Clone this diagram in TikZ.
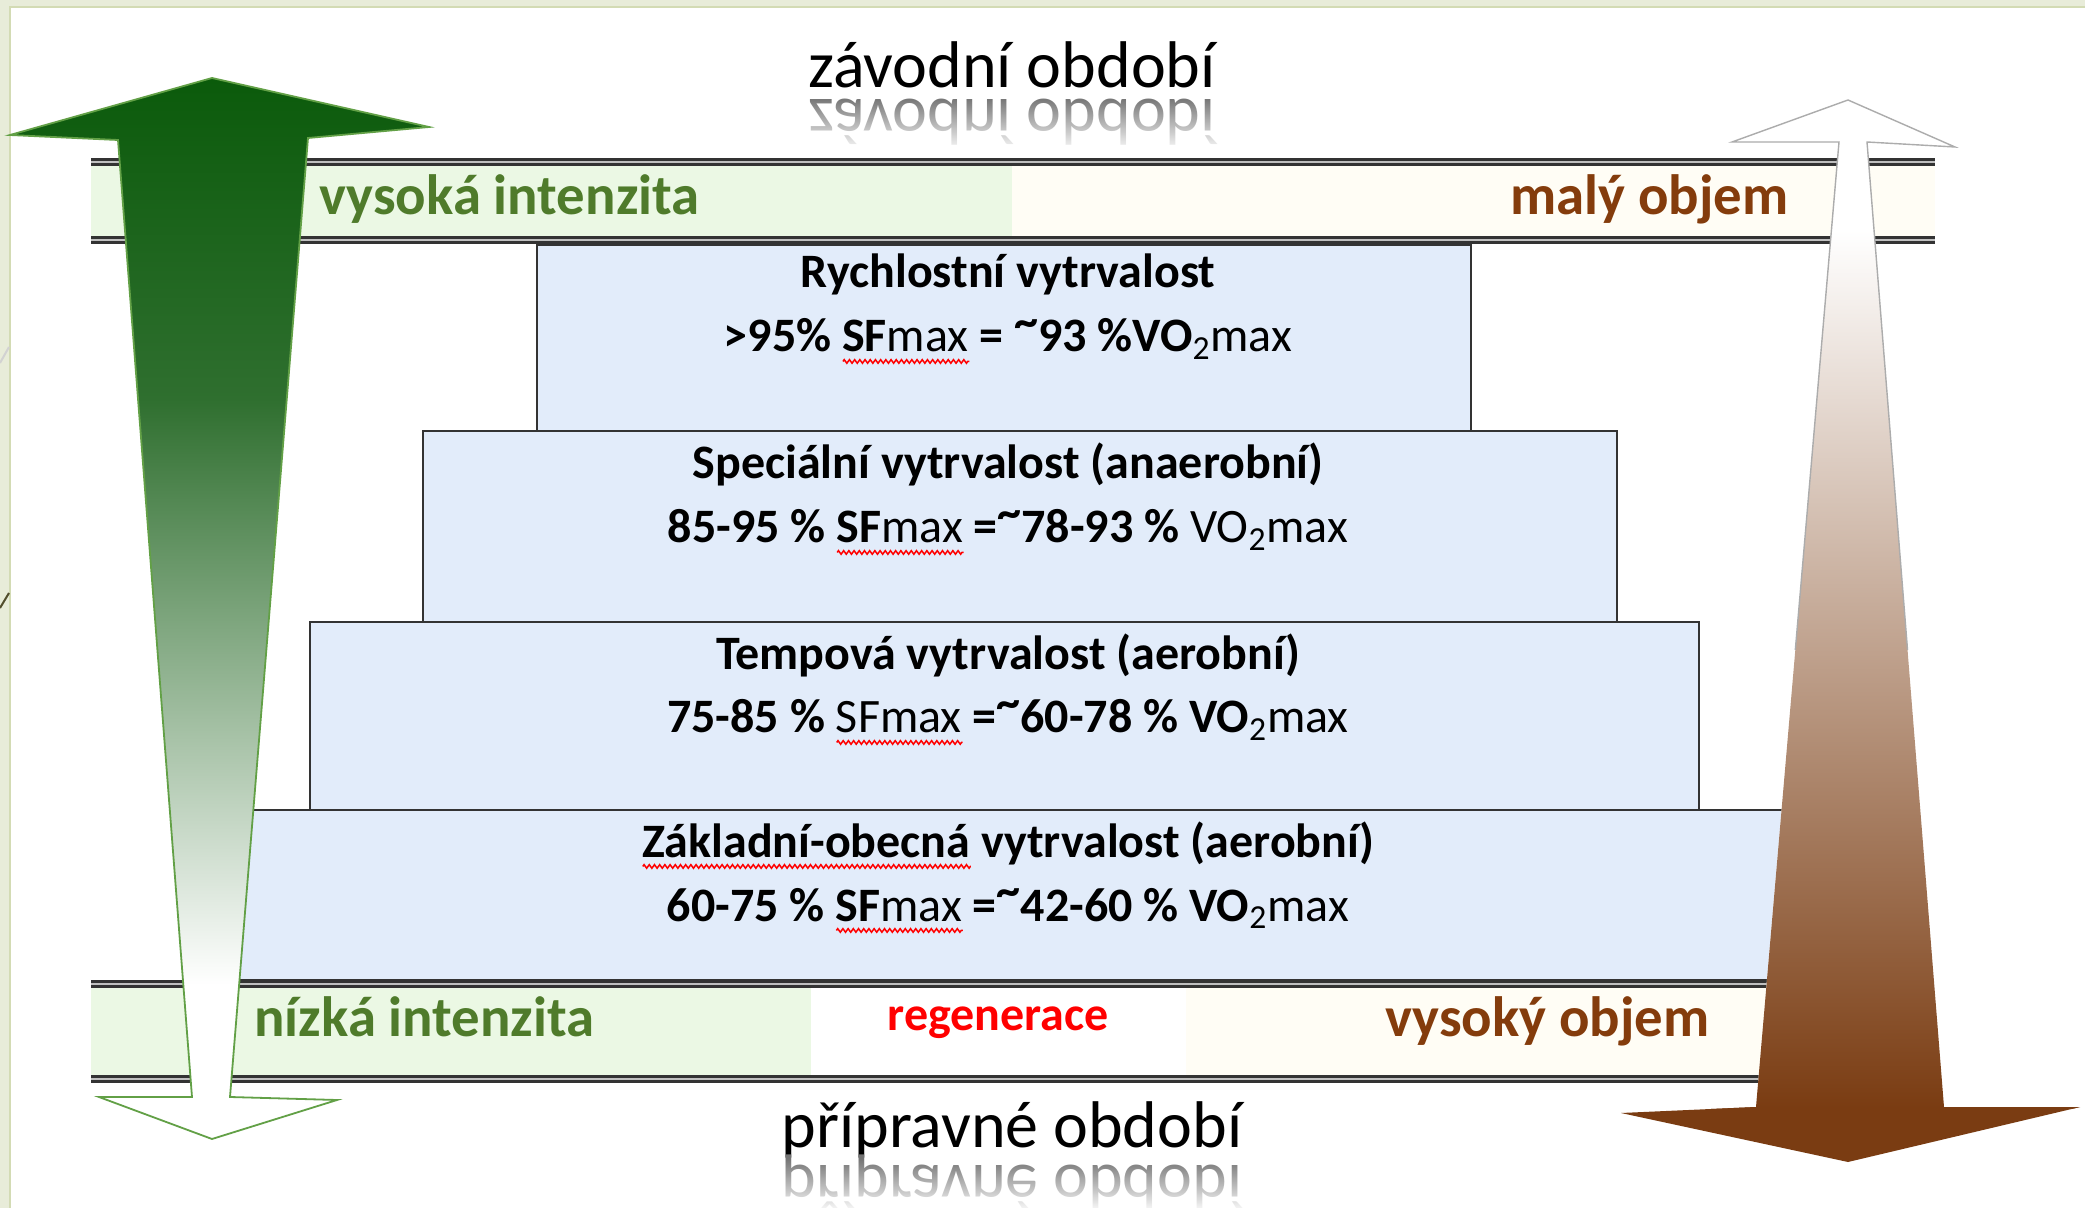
\documentclass[tikz,border=0pt]{standalone}
\usepackage{fontspec}
\setmainfont{Carlito}
\usepackage{graphicx}
\usetikzlibrary{fadings,decorations.pathmorphing}
\definecolor{framec}{HTML}{E8ECD9}
\definecolor{frameedge}{HTML}{D3DBB4}
\definecolor{bandgreen}{HTML}{EBF8E4}
\definecolor{bandcream}{HTML}{FFFDF5}
\definecolor{boxblue}{HTML}{E2ECFA}
\definecolor{txtgreen}{HTML}{4F7B2B}
\definecolor{txtbrown}{HTML}{843C0C}
\definecolor{gtop}{HTML}{0A5A0A}
\definecolor{gmid}{HTML}{2F6F2F}
\definecolor{gedge}{HTML}{62A046}
\definecolor{btop}{HTML}{7A3C12}
\newlength\rwlen
\newcommand\rwave[1]{\settowidth\rwlen{#1}\leavevmode\rlap{\raisebox{-6pt}{\tikz[x=1pt,y=1pt]\draw[red,line width=0.75pt,decorate,decoration={zigzag,segment length=2.6pt,amplitude=0.9pt}] (0,0)--(\rwlen,0);}}#1}
\newcommand\tld{\raisebox{0.3em}{\textasciitilde}}
\begin{document}
\begin{tikzpicture}[x=0.5pt,y=-0.5pt,
  bandline/.style={draw=black!80, line width=1.3pt, double=gray!50, double distance=1.1pt},
  tier/.style={draw=black!80, line width=1pt, fill=boxblue},
  tierhead/.style={anchor=base, inner sep=0pt, font=\fontsize{24}{28}\selectfont\bfseries},
  tierval/.style={anchor=base, inner sep=0pt, font=\fontsize{24}{28}\selectfont},
  bandlbl/.style={inner sep=0pt, font=\fontsize{28.4}{32}\selectfont\bfseries},
  period/.style={anchor=base, inner sep=0pt, font=\fontsize{33}{38}\selectfont}]
\useasboundingbox (0,0) rectangle (2085,1208);
% frame
\fill[framec] (0,0) rectangle (2085,1208);
\fill[white] (10,7) rectangle (2085,1208);
\draw[frameedge, line width=0.8pt] (10,1208) -- (10,7) -- (2085,7);
\draw[gray!35, line width=1pt] (0,363) -- (9,347);
\draw[black!55!olive, line width=1pt] (0,608) -- (9,593);
% top band
\fill[bandgreen] (91,162) rectangle (1012,240);
\fill[bandcream] (1012,162) rectangle (1935,240);
\draw[bandline] (91,162) -- (1935,162);
\draw[bandline] (91,240) -- (1935,240);
% bottom band
\fill[bandgreen] (91,984) rectangle (811,1079);
\fill[white] (811,984) rectangle (1186,1079);
\fill[bandcream] (1186,984) rectangle (1800,1079);
\draw[bandline] (91,984) -- (1800,984);
\draw[bandline] (91,1079) -- (1800,1079);
% tiers
\draw[tier] (537,245) rectangle (1471,431);
\draw[tier] (423,431) rectangle (1617,622);
\draw[tier] (310,622) rectangle (1699,810);
\draw[tier] (215,810) rectangle (1800,980);
% tier texts
\node[tierhead] (t1a) at (1008,288) {Rychlostní vytrvalost};
\node[tierval] (t1b) at (1008,352) {\textbf{>95\% }\rwave{{\bfseries SF}max}\textbf{ = \tld93 \%VO}\textsubscript{2}max};
\node[tierhead] (t2a) at (1008,479) {Speciální vytrvalost (anaerobní)};
\node[tierval] (t2b) at (1008,543) {\textbf{85-95 \% }\rwave{{\bfseries SF}max}\textbf{ =\tld78-93 \%} VO\textsubscript{2}max};
\node[tierhead] (t3a) at (1008,669) {Tempová vytrvalost (aerobní)};
\node[tierval] (t3b) at (1008,733) {\textbf{75-85 \%} \rwave{SFmax}\textbf{ =\tld60-78 \% VO}\textsubscript{2}max};
\node[tierhead] (t4a) at (1008,857) {\rwave{Základní-obecná} vytrvalost (aerobní)};
\node[tierval] (t4b) at (1008,921) {\textbf{60-75 \% }\rwave{{\bfseries SF}max}\textbf{ =\tld42-60 \% VO}\textsubscript{2}max};
% band labels
\node[bandlbl, text=txtgreen, anchor=base west] (vi) at (319,215) {vysoká intenzita};
\node[bandlbl, text=txtbrown, anchor=base east] (mo) at (1789,215) {malý objem};
\node[bandlbl, text=txtgreen, anchor=base west] (ni) at (254,1036) {nízká intenzita};
\node[bandlbl, text=red, anchor=base, font=\fontsize{24}{27}\selectfont\bfseries] (rg) at (998,1030) {regenerace};
\node[bandlbl, text=txtbrown, anchor=base east] (vo) at (1710,1036) {vysoký objem};
% period titles with reflections
\node[period] (zo) at (1012,88) {závodní období};
\node[period, text=black!55] (zor) at (1012,100) {\scalebox{1}[-1]{závodní období}};
\fill[white, path fading=north] (760,97) rectangle (1270,152);
\node[period] (po) at (1012,1147) {přípravné období};
\node[period, text=black!55] (por) at (1012,1165) {\scalebox{1}[-1]{přípravné období}};
\fill[white, path fading=north] (760,1158) rectangle (1270,1212);
% green arrow
\coordinate (g1) at (212,78);
\coordinate (g2) at (429,127);
\coordinate (g3) at (308,138);
\coordinate (g4) at (230,1097);
\coordinate (g5) at (337,1100);
\coordinate (g6) at (212,1139);
\coordinate (g7) at (99,1097);
\coordinate (g8) at (192,1097);
\coordinate (g9) at (118,140);
\coordinate (g10) at (10,135);
\begin{scope}
\clip (g1) -- (g2) -- (g3) -- (g4) -- (g5) -- (g6) -- (g7) -- (g8) -- (g9) -- (g10) -- cycle;
\fill[white] (0,0) rectangle (460,1208);
\shade[top color=gtop, bottom color=gmid] (0,70) rectangle (460,400);
\shade[top color=gmid, bottom color=white] (0,399) rectangle (460,985);
\end{scope}
\draw[gedge, line width=0.9pt, line join=miter] (g1) -- (g2) -- (g3) -- (g4) -- (g5) -- (g6) -- (g7) -- (g8) -- (g9) -- (g10) -- cycle;
% brown arrow
\coordinate (b1) at (1848,100);
\coordinate (b2) at (1955,147);
\coordinate (b3) at (1867,142);
\coordinate (b4) at (1944,1107);
\coordinate (b5) at (2080,1107);
\coordinate (b6) at (1848,1162);
\coordinate (b7) at (1621,1113);
\coordinate (b8) at (1756,1107);
\coordinate (b9) at (1839,142);
\coordinate (b10) at (1732,142);
\begin{scope}
\clip (b1) -- (b2) -- (b3) -- (b4) -- (b5) -- (b6) -- (b7) -- (b8) -- (b9) -- (b10) -- cycle;
\fill[white] (1600,0) rectangle (2100,1208);
\shade[top color=white, bottom color=btop] (1600,230) rectangle (2100,1108);
\fill[btop] (1600,1107) rectangle (2100,1208);
\end{scope}
\begin{scope}
\clip (1600,0) rectangle (2085,650);
\draw[gray!65, line width=0.7pt, line join=miter] (b1) -- (b2) -- (b3) -- (b4) -- (b5) -- (b6) -- (b7) -- (b8) -- (b9) -- (b10) -- cycle;
\end{scope}
\end{tikzpicture}
\end{document}
